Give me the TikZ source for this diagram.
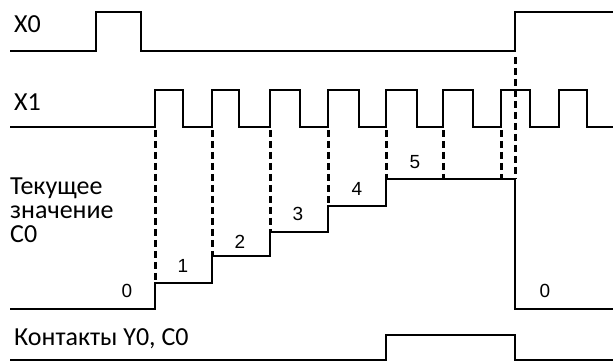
\documentclass[tikz,border=0pt]{standalone}
\usepackage{fontspec}
\setmainfont{Carlito}
\newfontfamily\numfont{Liberation Sans}
\begin{document}
\begin{tikzpicture}[x=1pt,y=-1pt,
  sig/.style={line width=2.2pt, line join=miter},
  dsh/.style={line width=3pt, dash pattern=on 7pt off 4pt},
  lbl/.style={anchor=base west, inner sep=0pt, font=\fontsize{26}{24}\selectfont},
  num/.style={inner sep=0pt, font=\numfont\fontsize{19}{22}\selectfont}]
\useasboundingbox (0,0) rectangle (613,363);
% labels
\node[lbl] (lx0) at (14,33) {X0};
\node[lbl] (lx1) at (14,111) {X1};
\node[lbl, align=left] (lc) at (10,243) {Текущее\\значение\\C0};
\node[lbl] (lyc) at (14,345) {Контакты Y0, C0};
% X0
\draw[sig] (10,51) -- (96,51) -- (96,12) -- (141,12) -- (141,51) -- (515,51) -- (515,12) -- (613,12);
% X1
\draw[sig] (10,127)
  \foreach \r/\f in {155/183,212/239,270/300,328/359,386/417,443/473,501/530,559/587}
  { -- (\r,127) -- (\r,90) -- (\f,90) -- (\f,127) } -- (613,127);
% dashed
\foreach \xx/\yy in {155/283,212/256,270/232,328/206,386/179,443/179,501/179}
  \draw[dsh] (\xx,130) -- (\xx,\yy);
\draw[dsh] (515,57) -- (515,179);
% C0
\draw[sig] (10,309) -- (155,309) -- (155,283) -- (212,283) -- (212,256) -- (270,256) -- (270,232) -- (328,232) -- (328,206) -- (386,206) -- (386,179) -- (515,179) -- (515,309) -- (613,309);
\node[num] (n0) at (127,291) {0};
\node[num] (n1) at (183,266) {1};
\node[num] (n2) at (240,242) {2};
\node[num] (n3) at (298,214) {3};
\node[num] (n4) at (357,189) {4};
\node[num] (n5) at (415,162) {5};
\node[num] (n6) at (545,291) {0};
% contacts
\draw[sig] (10,360) -- (386,360) -- (386,335) -- (515,335) -- (515,360) -- (613,360);
\end{tikzpicture}
\end{document}
